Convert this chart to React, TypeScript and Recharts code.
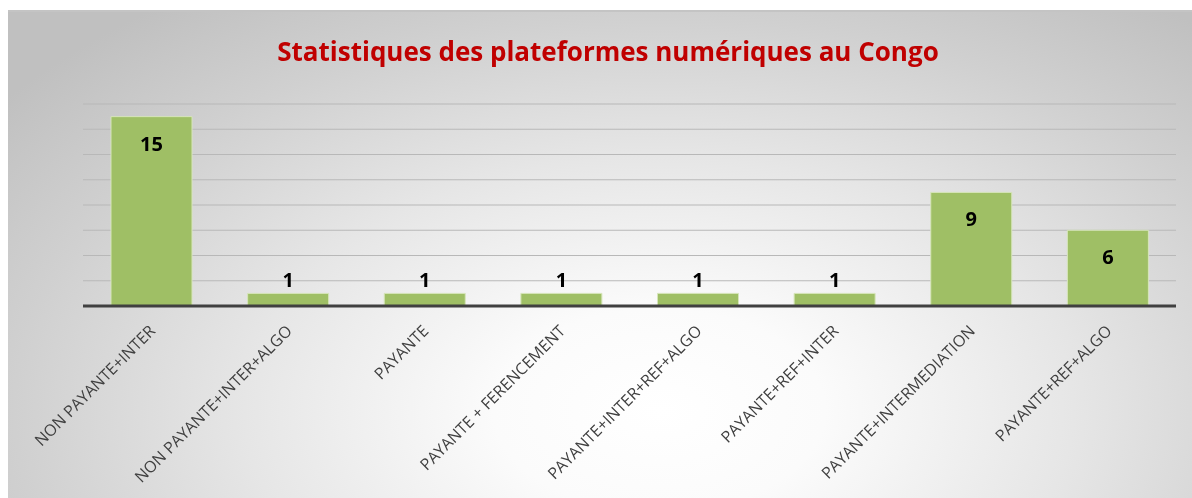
import { Bar, BarChart, CartesianGrid, LabelList, XAxis, YAxis } from "recharts";

const categories = [
  "NON PAYANTE+INTER",
  "NON PAYANTE+INTER+ALGO",
  "PAYANTE",
  "PAYANTE + FERENCEMENT",
  "PAYANTE+INTER+REF+ALGO",
  "PAYANTE+REF+INTER",
  "PAYANTE+INTERMEDIATION",
  "PAYANTE+REF+ALGO",
];
const counts = [15, 1, 1, 1, 1, 1, 9, 6];
const yTicks = [0, 2, 4, 6, 8, 10, 12, 14, 16];
const yMax = 16;

const data = categories.map((name, i) => ({ name, count: counts[i] }));

const font = "'Open Sans', 'DejaVu Sans', sans-serif";

function SlantedTick({ x, y, payload }: any) {
  return (
    <g transform={`translate(${x + 5},${y + 18})`}>
      <text
        transform="rotate(-45)"
        textAnchor="end"
        fontSize={16}
        fill="#404040"
        fontFamily={font}
      >
        {payload.value}
      </text>
    </g>
  );
}

function ValueLabel({ x, y, width, height, value }: any) {
  const inside = height > 30;
  return (
    <text
      x={x + width / 2}
      y={inside ? y + 27 : y - 13}
      dy="0.35em"
      textAnchor="middle"
      fontSize={20}
      fontWeight="bold"
      fill="#000"
      fontFamily={font}
    >
      {value}
    </text>
  );
}

export default function App() {
  return (
    <div
      style={{
        position: "fixed",
        left: 8,
        top: 10,
        width: 1184,
        height: 488,
        borderTop: "2px solid #c4c4c4",
        boxSizing: "border-box",
        background:
          "radial-gradient(ellipse farthest-corner at 55% 82%, #ffffff 0%, #fbfbfb 18%, #e6e6e6 45%, #d0d0d0 70%, #c0c0c0 90%)",
        overflow: "hidden",
      }}
    >
      <div
        style={{
          position: "absolute",
          top: 21,
          left: 8,
          width: "100%",
          textAlign: "center",
          fontFamily: font,
          fontWeight: "bold",
          fontSize: 26,
          color: "#c00000",
        }}
      >
        Statistiques des plateformes numériques au Congo
      </div>
      <BarChart
        width={1184}
        height={486}
        data={data}
        margin={{ top: 92, right: 16, bottom: 42, left: 75 }}
      >
        <CartesianGrid
          vertical={false}
          stroke="#b8b8b8"
          strokeWidth={1.2}
          horizontalCoordinatesGenerator={({ offset }: any) =>
            yTicks.map((t) => offset.top + offset.height * (1 - t / yMax))
          }
        />
        <YAxis domain={[0, yMax]} ticks={yTicks} hide />
        <XAxis
          dataKey="name"
          interval={0}
          height={150}
          tickLine={false}
          axisLine={{ stroke: "#404040", strokeWidth: 3 }}
          tick={<SlantedTick />}
        />
        <Bar
          dataKey="count"
          fill="#9fbf65"
          stroke="#d6e5ba"
          strokeWidth={1}
          barSize={81}
          isAnimationActive={false}
        >
          <LabelList dataKey="count" content={<ValueLabel />} />
        </Bar>
      </BarChart>
    </div>
  );
}
